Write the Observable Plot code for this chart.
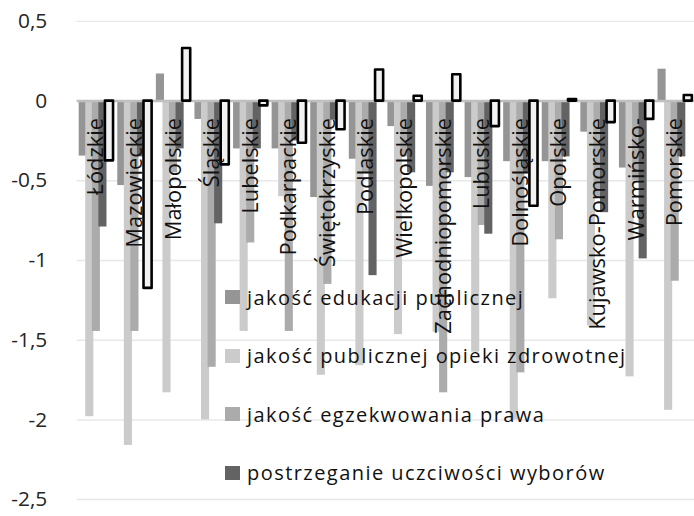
<!DOCTYPE html>
<html><head><meta charset="utf-8">
<script src="https://cdn.jsdelivr.net/npm/d3@7"></script>
<script src="https://cdn.jsdelivr.net/npm/@observablehq/plot@0.6"></script>
<style>
html,body{margin:0;padding:0;background:#fff;}
body{width:694px;height:516px;overflow:hidden;position:relative;font-family:"Open Sans",sans-serif;}
#chart{position:absolute;left:0;top:0;}
#legend{position:absolute;left:225px;top:0;width:460px;height:516px;pointer-events:none;}
.item{position:absolute;left:0;height:26px;display:flex;align-items:center;white-space:nowrap;font-size:20px;letter-spacing:1.45px;color:#111;}
.sw{width:15px;height:14px;margin-right:7px;flex:none;}
</style></head><body>
<div id="chart"></div><div id="legend"></div>
<script>
const regions = ["Łódzkie","Mazowieckie","Małopolskie","Śląskie","Lubelskie","Podkarpackie","Świętokrzyskie","Podlaskie","Wielkopolskie","Zachodniopomorskie","Lubuskie","Dolnośląskie","Opolskie","Kujawsko-Pomorskie","Warmińsko-Mazurskie","Pomorskie"];
const tickLabels = ["Łódzkie","Mazowieckie","Małopolskie","Śląskie","Lubelskie","Podkarpackie","Świętokrzyskie","Podlaskie","Wielkopolskie","Zachodniopomorskie","Lubuskie","Dolnośląskie","Opolskie","Kujawsko-Pomorskie","Warmińsko-","Pomorskie"];
const seriesNames = ["jakość edukacji publicznej","jakość publicznej opieki zdrowotnej","jakość egzekwowania prawa","postrzeganie uczciwości wyborów","ocena ogólna"];
const edu       = [-0.345,-0.53, 0.17,-0.115,-0.30,-0.30,-0.605,-0.365,-0.16,-0.535,-0.48,-0.38,-0.38,-0.195,-0.42, 0.20];
const health    = [-1.98,-2.16,-1.83,-2.00,-1.445,-0.60,-1.72,-1.66,-1.465,-1.45,-1.575,-2.00,-1.24,-1.41,-1.73,-1.94];
const law       = [-1.445,-1.445,-0.45,-1.67,-0.89,-1.445,-1.15,-0.45,-0.35,-1.83,-0.78,-1.705,-0.87,-0.60,-0.50,-1.13];
const elections = [-0.79,-0.35,-0.30,-0.77,-0.30,-0.25,-0.12,-1.095,-0.45,-0.45,-0.835,-0.45,-0.35,-0.70,-0.99,-0.35];
const overall   = [-0.375,-1.175, 0.33,-0.40,-0.03,-0.265,-0.18, 0.195, 0.03, 0.165,-0.16,-0.66, 0.01,-0.135,-0.115, 0.035];
const yTicks = [0.5, 0, -0.5, -1, -1.5, -2, -2.5];
const colors = ["#959595","#cbcbcb","#ababab","#636363"];

const filledSeries = [edu, health, law, elections];
const groupGap = 0.15, barStep = (1 - groupGap) / 5, overlap = 0.02;
const rows = [];
regions.forEach((r, i) => {
  filledSeries.forEach((arr, k) => rows.push({region: r, i, k, series: seriesNames[k], value: arr[i]}));
});
const outlineRows = regions.map((r, i) => ({region: r, i, k: 4, series: seriesNames[4], value: overall[i]}));
const left = d => d.i + groupGap / 2 + d.k * barStep - overlap;
const right = d => d.i + groupGap / 2 + (d.k + 1) * barStep + overlap;
const fmt = d => String(d).replace(".", ",");

const chart = Plot.plot({
  width: 698, height: 516,
  marginLeft: 77, marginRight: 0, marginTop: 21, marginBottom: 14,
  style: {fontFamily: "Open Sans, sans-serif", background: "transparent"},
  x: {type: "linear", domain: [0, regions.length], axis: null},
  y: {domain: [-2.5, 0.5], axis: null},
  color: {domain: seriesNames.slice(0, 4), range: colors},
  marks: [
    Plot.ruleY(yTicks.filter(t => t !== 0), {stroke: "#e8e8e8", strokeWidth: 1.5}),
    Plot.axisY(yTicks, {label: null, tickSize: 0, tickPadding: 30, tickFormat: fmt, fontSize: 21, fill: "#262626", style: "letter-spacing:1.8px"}),
    Plot.rectY(rows, {x1: left, x2: right, y1: 0, y2: "value", fill: "series"}),
    Plot.ruleY([0], {stroke: "#bfbfbf", strokeWidth: 2.5}),
    Plot.rectY(outlineRows, {x1: left, x2: right, y1: 0, y2: "value", fill: "#f2f2f2", stroke: "#000", strokeWidth: 2.6, strokeLinejoin: "round"}),
    Plot.text(tickLabels, {x: (d, i) => i + 0.5, y: 0, text: d => d, rotate: -90, textAnchor: "end", dy: 17, fontSize: 22, fill: "#111", style: "letter-spacing:1.8px"})
  ]
});
document.getElementById("chart").appendChild(chart);

const legendCenters = [297, 355.5, 414, 472.5];
const legend = document.getElementById("legend");
seriesNames.slice(0, 4).forEach((name, k) => {
  const item = document.createElement("div");
  item.className = "item";
  item.style.top = (legendCenters[k] - 13) + "px";
  const sw = document.createElement("span");
  sw.className = "sw";
  sw.style.background = colors[k];
  const t = document.createElement("span");
  t.textContent = name;
  item.appendChild(sw); item.appendChild(t);
  legend.appendChild(item);
});
</script>
</body></html>
